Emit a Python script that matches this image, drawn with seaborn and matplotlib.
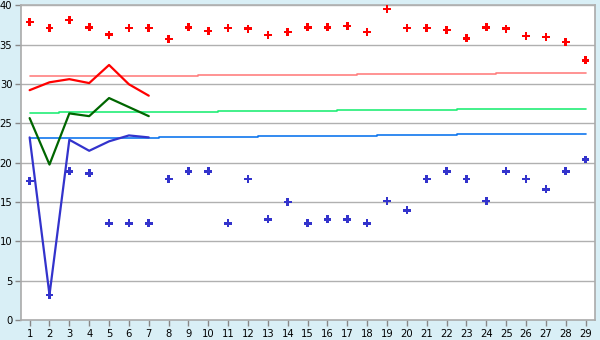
import numpy as np
import pandas as pd
import matplotlib
matplotlib.use("Agg")
import matplotlib.pyplot as plt
import seaborn as sns

days = list(range(1, 30))

max_points = [37.87, 37.1, 38.1, 37.2, 36.25, 37.1, 37.1, 35.7, 37.2, 36.7,
              37.1, 37.0, 36.2, 36.6, 37.2, 37.2, 37.35, 36.6, 39.5, 37.1,
              37.1, 36.85, 35.8, 37.2, 37.0, 36.1, 35.96, 35.3, 33.0]
min_points = [17.65, 3.2, 18.9, 18.65, 12.3, 12.3, 12.3, 17.9, 18.9, 18.9,
              12.3, 17.9, 12.8, 15.0, 12.3, 12.8, 12.8, 12.3, 15.1, 13.95,
              17.9, 18.9, 17.9, 15.1, 18.9, 17.9, 16.6, 18.9, 20.4]

line_days = [1, 2, 3, 4, 5, 6, 7]
red_line = [29.2, 30.2, 30.6, 30.1, 32.4, 29.95, 28.5]
green_line = [25.65, 19.75, 26.25, 25.9, 28.2, 27.05, 25.9]
blue_line = [23.2, 3.2, 22.9, 21.5, 22.7, 23.45, 23.2]

pink_avg = [31.0] * 9 + [31.1] * 8 + [31.3] * 7 + [31.42] * 5
green_avg = [26.3] * 2 + [26.4] * 8 + [26.55] * 6 + [26.68] * 6 + [26.8] * 7
blue_avg = [23.1] * 7 + [23.25] * 5 + [23.37] * 6 + [23.5] * 4 + [23.62] * 7

sns.set_style("white")
plt.rcParams['font.family'] = ['DejaVu Sans']

bg = '#d9eff6'
fig = plt.figure(figsize=(6, 3.4), dpi=100, facecolor=bg)
ax = fig.add_axes([0.0345, 0.0588, 0.957, 0.926])
ax.set_facecolor('white')

grid_c = '#b0b0b0'
for v in range(5, 41, 5):
    ax.axhline(v, color=grid_c, lw=1, zorder=0)

ax.plot(days, pink_avg, drawstyle='steps-mid', color='#ff8080', lw=1.2, zorder=2)
ax.plot(days, green_avg, drawstyle='steps-mid', color='#22ee77', lw=1.2, zorder=2)
ax.plot(days, blue_avg, drawstyle='steps-mid', color='#1177ee', lw=1.2, zorder=2)

sns.lineplot(x=line_days, y=red_line, ax=ax, color='#ff0000', lw=1.6, zorder=3)
sns.lineplot(x=line_days, y=green_line, ax=ax, color='#006600', lw=1.6, zorder=3)
sns.lineplot(x=line_days, y=blue_line, ax=ax, color='#3333cc', lw=1.6, zorder=3)

sns.scatterplot(x=days, y=max_points, ax=ax, marker='P', s=32, color='#ff0000',
                edgecolor='none', zorder=4)
sns.scatterplot(x=days, y=min_points, ax=ax, marker='P', s=32, color='#3333cc',
                edgecolor='none', zorder=4)

ax.set_xlim(0.55, 29.47)
ax.set_ylim(0, 40)
ax.set_xticks(days)
ax.set_xticklabels([str(d) for d in days])
ax.set_yticks(range(0, 41, 5))
ax.tick_params(axis='both', direction='out', length=4, width=1, color='#888888',
               labelsize=7.2, labelcolor='black', pad=2)
ax.tick_params(axis='x', pad=2.5)
ax.tick_params(left=True, bottom=True)
for s in ['left', 'bottom', 'right', 'top']:
    ax.spines[s].set_visible(True)
    ax.spines[s].set_color('#aaaaaa')
    ax.spines[s].set_linewidth(1.2)
ax.spines['top'].set_color(grid_c)

fig.savefig('out.png', dpi=100, facecolor=bg)
